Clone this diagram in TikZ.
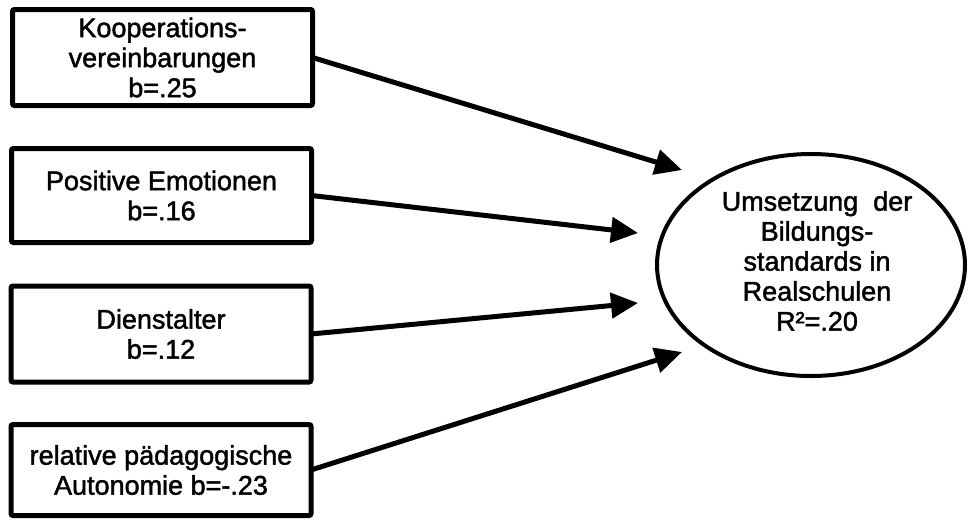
\documentclass[tikz,border=0pt]{standalone}
\usepackage{fontspec}
\setmainfont{Liberation Sans}[FakeBold=1.6]
\usetikzlibrary{arrows.meta,shapes.geometric}
\begin{document}
\begin{tikzpicture}[x=1pt,y=-1pt,
  prädiktor/.style={draw,line width=5pt,rectangle,rounded corners=2pt,minimum width=300pt,minimum height=96pt,
    align=center,inner sep=0pt,outer sep=0pt,font=\fontsize{27}{30}\selectfont},
  kriterium/.style={draw,line width=4pt,ellipse,minimum width=308pt,minimum height=222pt,
    align=center,inner sep=0pt,outer sep=0pt,font=\fontsize{27}{30}\selectfont},
  pfeil/.style={line width=5pt,-{Triangle[length=27pt,width=25pt]}}]
\useasboundingbox (0,0) rectangle (969,523);
\fill[white] (0,0) rectangle (969,523);

\node[prädiktor] (koop) at (162.5,57.5) {Kooperations-\\vereinbarungen\\b=.25};
\node[prädiktor,minimum height=94pt] (emo) at (161.5,195.5) {Positive Emotionen\\b=.16};
\node[prädiktor] (dienst) at (161,334) {Dienstalter\\b=.12};
\node[prädiktor,minimum height=91pt] (auto) at (161,470) {relative pädagogische\\Autonomie b=-.23};

\node[kriterium] (ziel) at (811,265) {};
\node[align=center,inner sep=0pt,font=\fontsize{27}{30}\selectfont] (zieltext) at (817,261)
  {Umsetzung\ \ der\\Bildungs-\\standards in\\Realschulen\\R²=.20};

\coordinate (t1) at (682,170);
\coordinate (t2) at (638,233);
\coordinate (t3) at (638,303);
\coordinate (t4) at (682,352);

\draw[pfeil] (koop.east) -- (t1);
\draw[pfeil] (emo.east) -- (t2);
\draw[pfeil] (dienst.east) -- (t3);
\draw[pfeil] (auto.east) -- (t4);
\end{tikzpicture}
\end{document}
